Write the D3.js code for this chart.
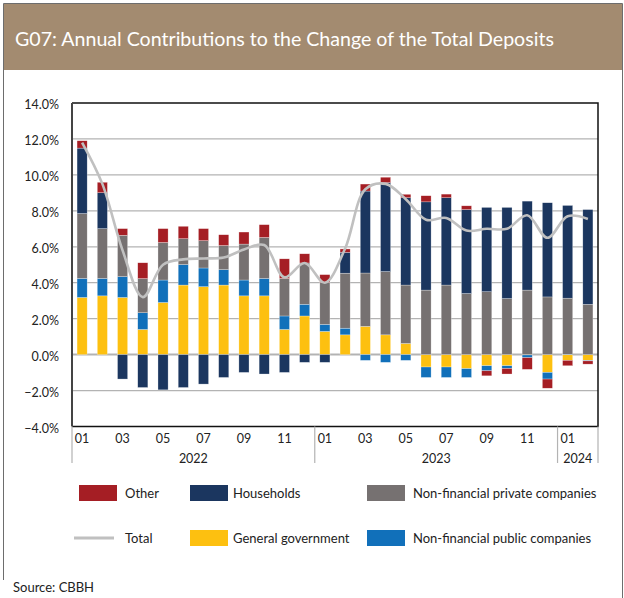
<!DOCTYPE html>
<html>
<head>
<meta charset="utf-8">
<script src="https://cdn.jsdelivr.net/npm/d3@7"></script>
<style>
  body { margin: 0; background: #fff; }
  svg { display: block; font-family: Lato, "Open Sans", sans-serif; }
</style>
</head>
<body>
<svg id="chart" width="624" height="598"></svg>
<script>
// monthly data, Jan 2022 - Feb 2024 (percentage points)
var months = ["2022-01","2022-02","2022-03","2022-04","2022-05","2022-06","2022-07","2022-08","2022-09","2022-10","2022-11","2022-12",
              "2023-01","2023-02","2023-03","2023-04","2023-05","2023-06","2023-07","2023-08","2023-09","2023-10","2023-11","2023-12",
              "2024-01","2024-02"];
var generalGov       = [3.18, 3.27, 3.18, 1.40, 2.90, 3.87, 3.78, 3.87, 3.27, 3.27, 1.40, 2.15, 1.29, 1.10, 1.57, 1.10, 0.62, -0.69, -0.69, -0.78, -0.62, -0.62, -0.02, -0.99, -0.32, -0.32];
var publicCompanies  = [1.06, 0.97, 1.16, 0.93, 1.25, 1.14, 1.04, 0.86, 0.88, 0.97, 0.75, 0.65, 0.39, 0.37, -0.32, -0.43, -0.32, -0.58, -0.58, -0.49, -0.28, -0.15, -0.15, -0.37, 0.02, -0.03];
var privateCompanies = [3.61, 2.77, 2.30, 1.90, 2.09, 1.44, 1.52, 1.34, 2.00, 2.28, 2.09, 2.30, 2.34, 3.06, 2.97, 3.52, 3.25, 3.59, 3.87, 3.40, 3.50, 3.12, 3.59, 3.21, 3.12, 2.80];
var households       = [3.64, 2.00, -1.36, -1.83, -1.96, -1.83, -1.64, -1.27, -0.99, -1.08, -0.99, -0.43, -0.43, 1.16, 4.56, 4.95, 4.86, 4.91, 4.86, 4.67, 4.69, 5.07, 4.95, 5.24, 5.16, 5.27];
var other            = [0.41, 0.58, 0.37, 0.88, 0.77, 0.69, 0.67, 0.60, 0.67, 0.71, 1.09, 0.51, 0.43, 0.19, 0.39, 0.30, 0.19, 0.34, 0.20, 0.21, -0.28, -0.31, -0.65, -0.51, -0.30, -0.18];
var total            = [11.8, 9.5, 5.8, 3.2, 5.0, 5.3, 5.35, 5.4, 5.85, 6.1, 4.3, 5.1, 4.0, 5.9, 9.2, 9.5, 8.65, 7.5, 7.6, 6.9, 7.0, 7.0, 7.75, 6.5, 7.7, 7.55];
var yTicks = [-4, -2, 0, 2, 4, 6, 8, 10, 12, 14];
var years = ["2022", "2023", "2024"];

var series = [
  { key: "gg",    name: "General government",           color: "#FDC010", values: generalGov },
  { key: "pub",   name: "Non-financial public companies",  color: "#1170BA", values: publicCompanies },
  { key: "priv",  name: "Non-financial private companies", color: "#767171", values: privateCompanies },
  { key: "hh",    name: "Households",                   color: "#1B365F", values: households },
  { key: "other", name: "Other",                        color: "#A51E24", values: other }
];

var svg = d3.select("#chart");

// frame + header
svg.append("path")
  .attr("d", "M3.5,580V3.5H622.5V598")
  .attr("fill", "none").attr("stroke", "#6d6d6d").attr("stroke-width", 1);
svg.append("rect")
  .attr("x", 4).attr("y", 4).attr("width", 618).attr("height", 66)
  .attr("fill", "#A38B70");
svg.append("text")
  .attr("x", 15).attr("y", 46)
  .attr("fill", "#fff")
  .style("font-size", "19.6px")
  .text("G07: Annual Contributions to the Change of the Total Deposits");

var plot = { left: 72, right: 598, top: 103, bottom: 426.5 };

var x = d3.scaleBand().domain(months)
  .range([plot.left, plot.right])
  .paddingInner(0.5).paddingOuter(0.25);
var y = d3.scaleLinear().domain([-4, 14]).range([plot.bottom, plot.top]);

// gridlines
svg.append("g").selectAll("line")
  .data(yTicks.filter(d => d > -4 && d < 14))
  .join("line")
  .attr("x1", plot.left).attr("x2", plot.right)
  .attr("y1", d => y(d)).attr("y2", d => y(d))
  .attr("stroke", "#b3b3b3")
  .attr("stroke-width", d => d == 0 ? 2 : 1.2);

// y tick labels
svg.append("g").selectAll("text")
  .data(yTicks)
  .join("text")
  .attr("x", 59).attr("y", d => y(d) + 6)
  .attr("text-anchor", "end")
  .attr("fill", "#222")
  .style("font-size", "12.5px")
  .text(d => d3.format(".1f")(d) + "%");

// stacked bars
var rows = months.map(function (m, i) {
  var r = { month: m };
  series.forEach(s => r[s.key] = s.values[i]);
  return r;
});
var stacked = d3.stack()
  .keys(series.map(s => s.key))
  .offset(d3.stackOffsetDiverging)(rows);

svg.append("g").selectAll("g")
  .data(stacked)
  .join("g")
  .attr("fill", (d, i) => series[i].color)
  .selectAll("rect")
  .data(d => d)
  .join("rect")
  .attr("x", d => x(d.data.month))
  .attr("width", x.bandwidth())
  .attr("y", d => y(d[1]))
  .attr("height", d => Math.abs(y(d[0]) - y(d[1])))
  .attr("stroke", "rgba(255,255,255,0.55)")
  .attr("stroke-width", 0.5);

// total line
var line = d3.line()
  .x((d, i) => x(months[i]) + x.bandwidth() / 2)
  .y(d => y(d))
  .curve(d3.curveCatmullRom.alpha(0.5));
svg.append("path")
  .datum(total)
  .attr("d", line)
  .attr("fill", "none")
  .attr("stroke", "#c0c0c0")
  .attr("stroke-width", 2.6);

// plot frame
svg.append("path")
  .attr("d", "M" + plot.left + "," + plot.top + "H" + plot.right + "V" + plot.bottom + "H" + plot.left)
  .attr("fill", "none").attr("stroke", "#111").attr("stroke-width", 1.5);
svg.append("line")
  .attr("x1", plot.left).attr("x2", plot.left)
  .attr("y1", plot.top).attr("y2", plot.bottom)
  .attr("stroke", "#444").attr("stroke-width", 2);

// x axis: months and years
svg.append("g").selectAll("text")
  .data(months.filter((m, i) => i % 2 == 0))
  .join("text")
  .attr("x", d => x(d) + x.bandwidth() / 2)
  .attr("y", 443)
  .attr("text-anchor", "middle")
  .attr("fill", "#222")
  .style("font-size", "12.5px")
  .text(d => d.slice(5));

var yearSpans = years.map(function (yr) {
  var ms = months.filter(m => m.slice(0, 4) == yr);
  return { year: yr,
           x0: x(ms[0]) - x.step() * x.paddingInner() / 2,
           x1: x(ms[ms.length - 1]) + x.bandwidth() + x.step() * x.paddingInner() / 2 };
});
yearSpans[0].x0 = plot.left;
yearSpans[yearSpans.length - 1].x1 = plot.right;

svg.append("g").selectAll("line")
  .data(yearSpans.map(d => d.x0).concat([plot.right]))
  .join("line")
  .attr("x1", d => d).attr("x2", d => d)
  .attr("y1", plot.bottom).attr("y2", 463)
  .attr("stroke", "#b3b3b3").attr("stroke-width", 1.2);

svg.append("g").selectAll("text")
  .data(yearSpans)
  .join("text")
  .attr("x", d => (d.x0 + d.x1) / 2)
  .attr("y", 463)
  .attr("text-anchor", "middle")
  .attr("fill", "#222")
  .style("font-size", "12.5px")
  .text(d => d.year);

// legend
var legendItems = [
  { label: "Other", color: series[4].color, x: 79, y: 493, tx: 46 },
  { label: "Households", color: series[3].color, x: 190, y: 493, tx: 43 },
  { label: "Non-financial private companies", color: series[2].color, x: 367, y: 493, tx: 46 },
  { label: "Total", line: true, color: "#c0c0c0", x: 79, y: 538, tx: 46 },
  { label: "General government", color: series[0].color, x: 190, y: 538, tx: 43 },
  { label: "Non-financial public companies", color: series[1].color, x: 367, y: 538, tx: 46 }
];
var lg = svg.append("g").selectAll("g")
  .data(legendItems)
  .join("g")
  .attr("transform", d => "translate(" + d.x + "," + d.y + ")");
lg.filter(d => !d.line).append("rect")
  .attr("x", 0).attr("y", -8).attr("width", 38).attr("height", 16)
  .attr("fill", d => d.color);
lg.filter(d => d.line).append("line")
  .attr("x1", -5).attr("x2", 35).attr("y1", 0).attr("y2", 0)
  .attr("stroke", d => d.color).attr("stroke-width", 3);
lg.append("text")
  .attr("x", d => d.tx)
  .attr("y", 4.5)
  .attr("fill", "#222")
  .style("font-size", "13px")
  .text(d => d.label);

svg.append("text")
  .attr("x", 13).attr("y", 592)
  .attr("fill", "#222")
  .style("font-size", "13px")
  .text("Source: CBBH");
</script>
</body>
</html>
